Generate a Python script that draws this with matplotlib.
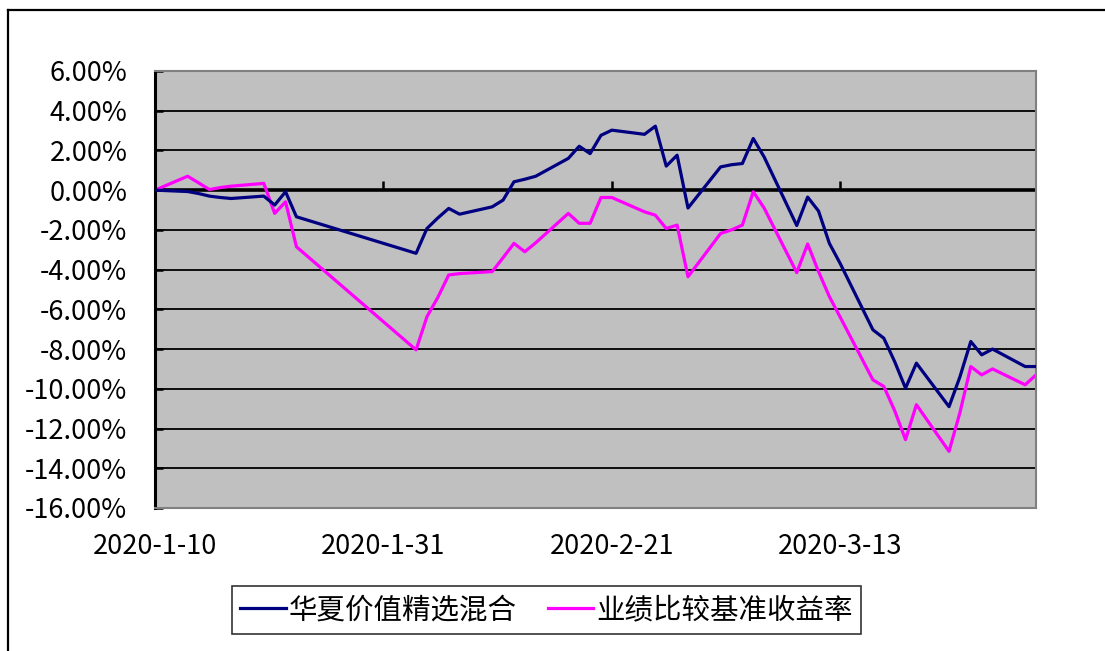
import matplotlib
matplotlib.use("Agg")
import matplotlib.pyplot as plt
import matplotlib.dates as mdates
from matplotlib.lines import Line2D
import pandas as pd

plt.rcParams['font.family'] = ['Noto Sans CJK SC', 'DejaVu Sans']

# 交易日
dates = ["2020-01-10", "2020-01-13", "2020-01-14", "2020-01-15", "2020-01-16",
         "2020-01-17", "2020-01-20", "2020-01-21", "2020-01-22", "2020-01-23",
         "2020-02-03", "2020-02-04", "2020-02-05", "2020-02-06", "2020-02-07",
         "2020-02-10", "2020-02-11", "2020-02-12", "2020-02-13", "2020-02-14",
         "2020-02-17", "2020-02-18", "2020-02-19", "2020-02-20", "2020-02-21",
         "2020-02-24", "2020-02-25", "2020-02-26", "2020-02-27", "2020-02-28",
         "2020-03-02", "2020-03-03", "2020-03-04", "2020-03-05", "2020-03-06",
         "2020-03-09", "2020-03-10", "2020-03-11", "2020-03-12", "2020-03-13",
         "2020-03-16", "2020-03-17", "2020-03-18", "2020-03-19", "2020-03-20",
         "2020-03-23", "2020-03-24", "2020-03-25", "2020-03-26", "2020-03-27",
         "2020-03-30", "2020-03-31"]

# 华夏价值精选混合 (%)
fund = [0.00, -0.07, -0.17, -0.30, -0.37, -0.42, -0.30, -0.75, -0.08, -1.34,
        -3.18, -1.93, -1.40, -0.92, -1.21, -0.84, -0.50, 0.42, 0.55, 0.70,
        1.60, 2.21, 1.84, 2.76, 3.02, 2.81, 3.22, 1.21, 1.76, -0.90,
        1.17, 1.28, 1.34, 2.60, 1.67, -1.78, -0.35, -1.05, -2.68, -3.70,
        -7.03, -7.45, -8.63, -9.97, -8.71, -10.90, -9.40, -7.62, -8.29, -8.00,
        -8.88, -8.88]

# 业绩比较基准收益率 (%)
bench = [0.00, 0.70, 0.37, 0.03, 0.13, 0.20, 0.34, -1.17, -0.59, -2.85,
         -8.04, -6.37, -5.40, -4.27, -4.20, -4.10, -3.40, -2.68, -3.10, -2.65,
         -1.17, -1.67, -1.67, -0.37, -0.37, -1.09, -1.26, -1.93, -1.76, -4.36,
         -2.18, -2.00, -1.76, -0.08, -0.90, -4.15, -2.71, -4.10, -5.36, -6.40,
         -9.55, -9.88, -11.10, -12.56, -10.80, -13.15, -11.20, -8.88, -9.30, -9.00,
         -9.80, -9.30]

xtick_dates = ["2020-01-10", "2020-01-31", "2020-02-21", "2020-03-13"]
xtick_labels = ["2020-1-10", "2020-1-31", "2020-2-21", "2020-3-13"]
yticks = [-16, -14, -12, -10, -8, -6, -4, -2, 0, 2, 4, 6]
names = ["华夏价值精选混合", "业绩比较基准收益率"]

x = pd.to_datetime(dates)
xt = pd.to_datetime(xtick_dates)

fig = plt.figure(figsize=(11.05, 6.51), dpi=100)
ax = fig.add_axes([0.1403, 0.2197, 0.7973, 0.6713])
ax.set_facecolor("#C0C0C0")

# 网格线
ax.hlines(yticks[1:-1], x[0], x[-1], colors="black", linewidth=1.3, zorder=1)
ax.axhline(0, color="black", linewidth=2.6, zorder=1)
ax.vlines(xt[1:], 0, 0.45, colors="black", linewidth=1.8, zorder=1)

ax.plot(x, fund, color="#000080", linewidth=2.3, label=names[0], zorder=3)
ax.plot(x, bench, color="#FF00FF", linewidth=2.3, label=names[1], zorder=2)

ax.set_xlim(x[0], x[-1])
ax.set_ylim(-16, 6)
ax.set_yticks(yticks)
ax.set_yticklabels(["%.2f%%" % v for v in yticks])
ax.set_xticks(xt)
ax.set_xticklabels(xtick_labels)
ax.tick_params(axis="y", direction="in", length=6, width=1.8, pad=20, labelsize=19.5)
ax.tick_params(axis="x", length=0, pad=18, labelsize=19.5)

for s in ["top", "right", "bottom"]:
    ax.spines[s].set_color("#808080")
    ax.spines[s].set_linewidth(1.5)
ax.spines["left"].set_color("black")
ax.spines["left"].set_linewidth(2.2)

# 图例
leg = fig.legend(loc="center", bbox_to_anchor=(0.4946, 0.063), ncol=2,
                 fontsize=20.5, frameon=True, fancybox=False,
                 handlelength=1.6, handletextpad=0.1, columnspacing=1.1,
                 borderpad=0.3)
leg.get_frame().set_edgecolor("black")
leg.get_frame().set_linewidth(1.2)

# 外框
fig.add_artist(Line2D([8 / 1105, 1], [1 - 10 / 651, 1 - 10 / 651], color="black", linewidth=1.6))
fig.add_artist(Line2D([8 / 1105, 8 / 1105], [0, 1 - 10 / 651], color="black", linewidth=1.6))

fig.savefig("out.png", dpi=100)
